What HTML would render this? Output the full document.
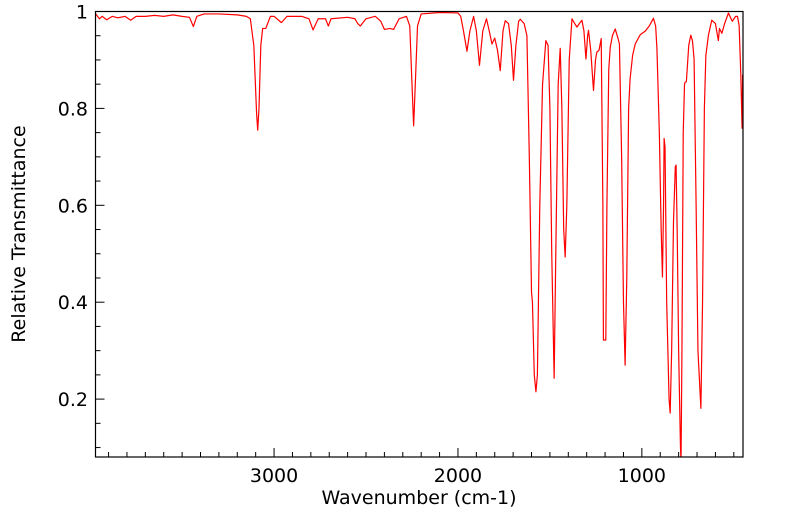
<!DOCTYPE html>
<html><head><meta charset="utf-8">
<style>
html,body{margin:0;padding:0;background:#fff;}
svg{display:block;font-family:"DejaVu Sans","Liberation Sans",sans-serif;}
</style></head>
<body>
<svg id="chart" width="799" height="516" viewBox="0 0 799 516" xmlns="http://www.w3.org/2000/svg">
<g id="axes"></g>
<path id="series" fill="none" stroke="#ff0000" stroke-width="1.2" stroke-linejoin="round"></path>
<rect x="95.5" y="11.5" width="647.5" height="445.5" fill="none" stroke="#000" stroke-width="1.2"/>
<text x="419" y="504" font-size="19" text-anchor="middle">Wavenumber (cm-1)</text>
<text x="25" y="234" font-size="19" text-anchor="middle" transform="rotate(-90 25 234)">Relative Transmittance</text>
</svg>
<script>
const wavenumbers=[3970,3950,3935,3910,3880,3850,3810,3780,3750,3700,3650,3600,3550,3500,3460,3439,3420,3380,3300,3200,3150,3129,3110,3095,3089,3082,3072,3062,3045,3020,3000,2960,2930,2850,2810,2788,2760,2720,2705,2690,2600,2560,2545,2531,2500,2450,2420,2400,2370,2350,2320,2280,2262,2250,2241,2232,2220,2200,2100,2000,1985,1970,1951,1935,1915,1900,1883,1865,1845,1830,1815,1800,1785,1770,1755,1743,1725,1710,1698,1685,1670,1661,1640,1625,1612,1600,1595,1585,1576,1568,1555,1540,1522,1510,1500,1490,1477,1468,1455,1444,1435,1425,1417,1408,1395,1380,1365,1353,1340,1326,1315,1304,1295,1290,1278,1263,1252,1245,1233,1221,1212,1209,1196,1190,1180,1172,1160,1145,1130,1122,1110,1100,1091,1082,1072,1064,1050,1036,1009,980,960,937,925,918,905,895,888,882,879,874,865,852,846,838,828,818,814,808,800,790,787,782,775,768,765,758,745,734,725,716,705,695,679,670,660,652,638,620,600,584,578,565,550,529,515,508,490,480,471,462,455,452];
const transmittance=[.995,.985,.99,.983,.99,.987,.99,.982,.99,.99,.992,.99,.993,.99,.988,.969,.99,.995,.995,.993,.99,.985,.93,.79,.755,.80,.93,.965,.965,.99,.99,.977,.99,.99,.985,.962,.985,.985,.97,.985,.988,.985,.975,.97,.985,.99,.98,.963,.965,.963,.985,.99,.97,.85,.764,.85,.97,.995,.998,.997,.99,.96,.918,.96,.99,.96,.889,.96,.985,.96,.933,.945,.92,.878,.96,.981,.975,.93,.858,.93,.98,.984,.975,.95,.7,.42,.40,.25,.215,.25,.6,.85,.94,.93,.8,.5,.243,.5,.85,.924,.8,.55,.493,.6,.9,.985,.975,.968,.975,.982,.96,.902,.95,.961,.92,.837,.9,.916,.92,.944,.6,.322,.322,.6,.88,.926,.95,.964,.945,.933,.7,.4,.27,.45,.8,.861,.91,.933,.952,.96,.97,.986,.97,.923,.75,.55,.452,.6,.738,.72,.4,.2,.171,.3,.566,.68,.683,.55,.3,.1,.06,.3,.75,.85,.854,.855,.93,.951,.94,.902,.6,.3,.181,.4,.8,.909,.951,.982,.975,.94,.965,.955,.975,.997,.985,.98,.99,.99,.971,.87,.759,.87];
const xTickLabels=["3000","2000","1000"];
const xTickValues=[3000,2000,1000];
const yTickLabels=["0.2","0.4","0.6","0.8","1"];
const yTickValues=[0.2,0.4,0.6,0.8,1];

const X0=95.5,X1=743,Y0=11.5,Y1=457;
const wnMax=3971,wnMin=450,tMax=1.0,tMin=0.0805;
function xs(w){return X0+(wnMax-w)/(wnMax-wnMin)*(X1-X0);}
function ys(t){return Y0+(tMax-t)/(tMax-tMin)*(Y1-Y0);}

let d="";
for(let i=0;i<wavenumbers.length;i++){
  let t=Math.max(transmittance[i],tMin-0.01);
  d+=(i?"L":"M")+xs(wavenumbers[i]).toFixed(2)+","+ys(t).toFixed(2);
}
const ser=document.getElementById("series");
ser.setAttribute("d",d);
ser.setAttribute("clip-path","url(#clipP)");
const svg=document.getElementById("chart");
const NS="http://www.w3.org/2000/svg";
const defs=document.createElementNS(NS,"defs");
defs.innerHTML='<clipPath id="clipP"><rect x="95.5" y="11" width="647.5" height="446"/></clipPath>';
svg.insertBefore(defs,svg.firstChild);
const ax=document.getElementById("axes");
function line(x1,y1,x2,y2){const l=document.createElementNS(NS,"line");l.setAttribute("x1",x1);l.setAttribute("y1",y1);l.setAttribute("x2",x2);l.setAttribute("y2",y2);l.setAttribute("stroke","#000");l.setAttribute("stroke-width","1");ax.appendChild(l);return l;}
for(let w=500;w<=3900;w+=100){
  const major=w%1000===0;
  const l=line(xs(w),Y1,xs(w),Y1-(major?9:5));
  
  
}
for(let k=2;k<=19;k++){
  const t=k*0.05;
  const major=k%4===0;
  const l=line(X0,ys(t),X0+(major?9:5),ys(t));
  
  
}
xTickValues.forEach((v,i)=>{
  const tx=document.createElementNS(NS,"text");
  tx.setAttribute("x",xs(v));tx.setAttribute("y",482);
  tx.setAttribute("font-size","19");tx.setAttribute("text-anchor","middle");
  tx.textContent=xTickLabels[i];
  
  
  ax.appendChild(tx);
});
yTickValues.forEach((v,i)=>{
  const tx=document.createElementNS(NS,"text");
  tx.setAttribute("x",88);tx.setAttribute("y",ys(v)+7);
  tx.setAttribute("font-size","19");tx.setAttribute("text-anchor","end");
  tx.textContent=yTickLabels[i];
  
  
  ax.appendChild(tx);
});
</script>
</body></html>
